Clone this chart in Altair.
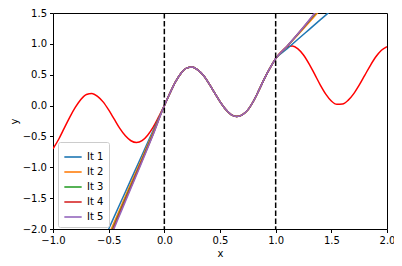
import altair as alt
import pandas as pd

# True function (red curve)
red_x = [-1.00, -0.95, -0.90, -0.85, -0.80, -0.75, -0.70, -0.65, -0.60, -0.55,
         -0.50, -0.45, -0.40, -0.35, -0.30, -0.25, -0.20, -0.15, -0.10, -0.05,
         0.00, 0.05, 0.10, 0.15, 0.20, 0.25, 0.30, 0.35, 0.40, 0.45,
         0.50, 0.55, 0.60, 0.65, 0.70, 0.75, 0.80, 0.85, 0.90, 0.95,
         1.00, 1.05, 1.10, 1.15, 1.20, 1.25, 1.30, 1.35, 1.40, 1.45,
         1.50, 1.55, 1.60, 1.65, 1.70, 1.75, 1.80, 1.85, 1.90, 1.95, 2.00]
red_y = [-0.70, -0.55, -0.37, -0.19, -0.03, 0.10, 0.18, 0.197, 0.15, 0.06,
         -0.07, -0.22, -0.37, -0.49, -0.57, -0.60, -0.57, -0.48, -0.35, -0.18,
         0.00, 0.20, 0.385, 0.525, 0.607, 0.625, 0.58, 0.49, 0.36, 0.21,
         0.065, -0.06, -0.145, -0.177, -0.15, -0.07, 0.07, 0.25, 0.44, 0.61,
         0.76, 0.87, 0.945, 0.964, 0.92, 0.82, 0.676, 0.508, 0.337, 0.186,
         0.075, 0.02, 0.025, 0.084, 0.19, 0.331, 0.49, 0.649, 0.79, 0.896, 0.955]

iter_names = ["It 1", "It 2", "It 3", "It 4", "It 5"]
iter_colors = ["#1f77b4", "#ff7f0e", "#2ca02c", "#d62728", "#9467bd"]

# extrapolated parts outside [0, 1]
left_x = [-0.5, -0.4, -0.3, -0.2, -0.1]
left_y = [
    [-2.00, -1.60, -1.20, -0.80, -0.40],
    [-2.10, -1.68, -1.26, -0.85, -0.43],
    [-2.15, -1.72, -1.30, -0.88, -0.45],
    [-2.17, -1.74, -1.32, -0.89, -0.46],
    [-2.20, -1.77, -1.34, -0.91, -0.47],
]
right_x = [1.1, 1.2, 1.3, 1.4, 1.5]
right_y = [
    [0.917, 1.074, 1.231, 1.388, 1.545],
    [0.953, 1.149, 1.348, 1.551, 1.757],
    [0.955, 1.158, 1.369, 1.588, 1.815],
    [0.956, 1.162, 1.378, 1.604, 1.838],
    [0.957, 1.164, 1.383, 1.614, 1.852],
]

x_ticks = [-1.0, -0.5, 0.0, 0.5, 1.0, 1.5, 2.0]
y_ticks = [-2.0, -1.5, -1.0, -0.5, 0.0, 0.5, 1.0, 1.5]
vlines = [0.0, 1.0]

red_df = pd.DataFrame({"x": red_x, "y": red_y})

rows = []
for i, name in enumerate(iter_names):
    for xv, yv in zip(left_x, left_y[i]):
        rows.append({"x": xv, "y": yv, "it": name})
    for xv, yv in zip(red_x, red_y):
        if 0.0 <= xv <= 1.0:
            rows.append({"x": xv, "y": yv, "it": name})
    for xv, yv in zip(right_x, right_y[i]):
        rows.append({"x": xv, "y": yv, "it": name})
it_df = pd.DataFrame(rows)
vl_df = pd.DataFrame({"x": vlines})

xscale = alt.Scale(domain=[-1, 2], nice=False, zero=False)
yscale = alt.Scale(domain=[-2, 1.5], nice=False, zero=False)


def xenc():
    return alt.X("x:Q", scale=xscale,
                 axis=alt.Axis(values=x_ticks, format=".1f", title="x",
                               labelOverlap=False, labelFlush=False))


def yenc():
    return alt.Y("y:Q", scale=yscale,
                 axis=alt.Axis(values=y_ticks, format=".1f", title="y",
                               labelOverlap=False, labelFlush=False))


red_layer = alt.Chart(red_df).mark_line(color="#ff0000", strokeWidth=1.5, clip=True,
                                         interpolate="monotone").encode(
    x=xenc(), y=yenc(),
)

it_layer = alt.Chart(it_df).mark_line(strokeWidth=1.5, clip=True, interpolate="monotone").encode(
    x=xenc(), y=yenc(),
    color=alt.Color("it:N", scale=alt.Scale(domain=iter_names, range=iter_colors),
                    legend=alt.Legend(title=None, orient="none", legendX=5, legendY=129,
                                      symbolType="stroke", symbolSize=300,
                                      symbolStrokeWidth=2, symbolOpacity=0.8,
                                      labelFontSize=10, rowPadding=0,
                                      fillColor="white", strokeColor="#cccccc",
                                      padding=5, cornerRadius=2)),
    order=alt.Order("x:Q"),
)

vl_layer = alt.Chart(vl_df).mark_rule(color="black", strokeWidth=1.5,
                                      strokeDash=[5.5, 2.4]).encode(
    x=xenc(),
)

chart = alt.layer(red_layer, it_layer, vl_layer).properties(
    width=334, height=216,
    autosize=alt.AutoSizeParams(type="none"),
    padding={"left": 45, "top": 5, "right": 7, "bottom": 29},
).configure_view(
    stroke="black", strokeWidth=1,
).configure_axis(
    grid=False, domain=False, ticks=True, tickColor="black", tickSize=3.5,
    labelColor="black", labelFont="DejaVu Sans", labelFontSize=10,
    titleFont="DejaVu Sans", titleFontSize=10, titleFontWeight="normal",
    titleColor="black", labelPadding=3,
).configure_axisY(titlePadding=3).configure_axisX(titlePadding=3).configure_legend(
    labelFont="DejaVu Sans", labelColor="black",
)

chart.save("out.html", embed_options={"renderer": "svg", "actions": False})
